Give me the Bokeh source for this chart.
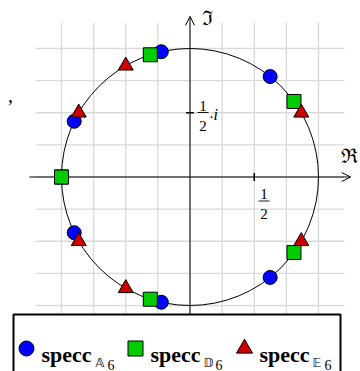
import math
from bokeh.plotting import figure
from bokeh.models import Arrow, OpenHead, Range1d
from bokeh.core.properties import value
from bokeh.embed import file_html
from bokeh.resources import INLINE

# ---- data (eigenvalue arguments on the unit circle, degrees) ----
a6_angles = [51.4, 102.9, 154.3, 205.7, 257.1, 308.6]
d6_angles = [36.0, 108.0, 180.0, 180.0, 252.0, 324.0]
e6_angles = [30.0, 120.0, 150.0, 210.0, 240.0, 330.0]
series_names = ["specc", "specc", "specc"]
series_sub_letters = ["\U0001D538", "\U0001D53B", "\U0001D53C"]
series_sub_digits = ["6", "6", "6"]
series_colors = ["#0000ff", "#00cc00", "#cc0000"]
series_markers = ["circle", "square", "triangle"]
grid_ticks = [-1.0, -0.75, -0.5, -0.25, 0.0, 0.25, 0.5, 0.75, 1.0]
grid_extent = 1.2
axis_extent = 1.25
x_tick = 0.5
y_tick = 0.5

# ---- geometry ----
W, H = 360, 371
R = 128.5
CX, CY = 189.5, 176.5   # origin in frame pixels


def px(x):
    return (x - CX) / R


def py(y):
    return (CY - y) / R


def polar(angles):
    return ([math.cos(math.radians(a)) for a in angles],
            [math.sin(math.radians(a)) for a in angles])


p = figure(width=W, height=H, output_backend="svg", toolbar_location=None,
           x_range=Range1d(-CX / R, (W - CX) / R),
           y_range=Range1d((CY - H) / R, CY / R),
           x_axis_location=None, y_axis_location=None, min_border=0)
p.grid.visible = False
p.outline_line_color = None
p.background_fill_color = "white"
p.border_fill_color = "white"

# grid
gv = [t for t in grid_ticks]
p.segment(x0=gv, x1=gv, y0=[-grid_extent] * len(gv), y1=[grid_extent] * len(gv),
          line_color="#d9d9d9", line_width=1.3, level="image")
p.segment(x0=[-grid_extent] * len(gv), x1=[grid_extent] * len(gv), y0=gv, y1=gv,
          line_color="#d9d9d9", line_width=1.3, level="image")

# axes
for xs, ys, xe, ye in [(-axis_extent, 0, axis_extent, 0), (0, -axis_extent, 0, axis_extent)]:
    p.add_layout(Arrow(end=OpenHead(size=9, line_width=1, line_color="black"),
                       x_start=xs, y_start=ys, x_end=xe, y_end=ye,
                       line_color="black", line_width=1, level="underlay"))

# ticks
tl = 4.0 / R
p.segment(x0=[x_tick, -tl], x1=[x_tick, tl], y0=[-tl, y_tick], y1=[tl, y_tick],
          line_color="black", line_width=1.5, level="underlay")

serif = value("Liberation Serif")
# x tick label 1/2
p.text(x=[px(263.5), px(263.5)], y=[py(193.5), py(213)], text=["1", "2"],
       text_font=serif, text_font_size="15px", text_align="center", text_baseline="alphabetic")
p.segment(x0=[px(258)], x1=[px(269)], y0=[py(200.5)], y1=[py(200.5)], line_color="black", line_width=0.9)
# y tick label 1/2 · i
p.text(x=[px(202.5), px(202.5)], y=[py(105), py(125)], text=["1", "2"],
       text_font=serif, text_font_size="15px", text_align="center", text_baseline="alphabetic")
p.segment(x0=[px(197)], x1=[px(208)], y0=[py(112)], y1=[py(112)], line_color="black", line_width=0.9)
p.text(x=[px(208.5)], y=[py(116)], text=["\u00b7"], text_font=serif, text_font_size="15px",
       text_align="left", text_baseline="alphabetic")
p.text(x=[px(213)], y=[py(114)], text=["i"], text_font=serif, text_font_size="16px",
       text_font_style="italic", text_align="left", text_baseline="alphabetic")

# axis names
p.text(x=[px(207)], y=[py(17)], text=["\u2111"], text_font=value("DejaVu Serif"),
       text_font_size="20px", text_align="center", text_baseline="middle")
p.text(x=[px(349)], y=[py(155)], text=["\u211c"], text_font=value("DejaVu Serif"),
       text_font_size="20px", text_align="center", text_baseline="middle")
# stray comma
p.text(x=[px(10)], y=[py(94)], text=[","], text_font=serif, text_font_size="20px",
       text_align="center", text_baseline="middle")

# unit circle
p.ellipse(x=[0], y=[0], width=2, height=2, fill_color=None, line_color="black", line_width=1)

# eigenvalues
sizes = [14, 14, 15]
for angles, col, mk, sz in zip([a6_angles, d6_angles, e6_angles], series_colors, series_markers, sizes):
    xs, ys = polar(angles)
    p.scatter(xs, ys, marker=mk, size=sz, fill_color=col, line_color="black", line_width=1)

# legend box
p.quad(left=[px(13)], right=[px(340)], top=[py(314)], bottom=[py(390)],
       fill_color="white", line_color="black", line_width=2)
mk_x = [26, 135, 244]
txt_x = [41, 150, 259]
sub_x = [95, 203, 312]
for i in range(3):
    p.scatter([px(mk_x[i])], [py(348)], marker=series_markers[i], size=sizes[i] + 1,
              fill_color=series_colors[i], line_color="black", line_width=1)
p.text(x=[px(v) for v in txt_x], y=[py(354)] * 3, text=series_names, text_font=serif,
       text_font_size="22px", text_font_style="bold", text_align="left", text_baseline="alphabetic")
p.text(x=[px(v) for v in sub_x], y=[py(362)] * 3, text=series_sub_letters, text_font=value("DejaVu Sans"),
       text_font_size="12px", text_color="black", text_align="left", text_baseline="alphabetic")
p.text(x=[px(v + 12) for v in sub_x], y=[py(364)] * 3, text=series_sub_digits, text_font=serif,
       text_font_size="14px", text_color="black", text_align="left", text_baseline="alphabetic")

open("out.html", "w").write(file_html(p, INLINE))
